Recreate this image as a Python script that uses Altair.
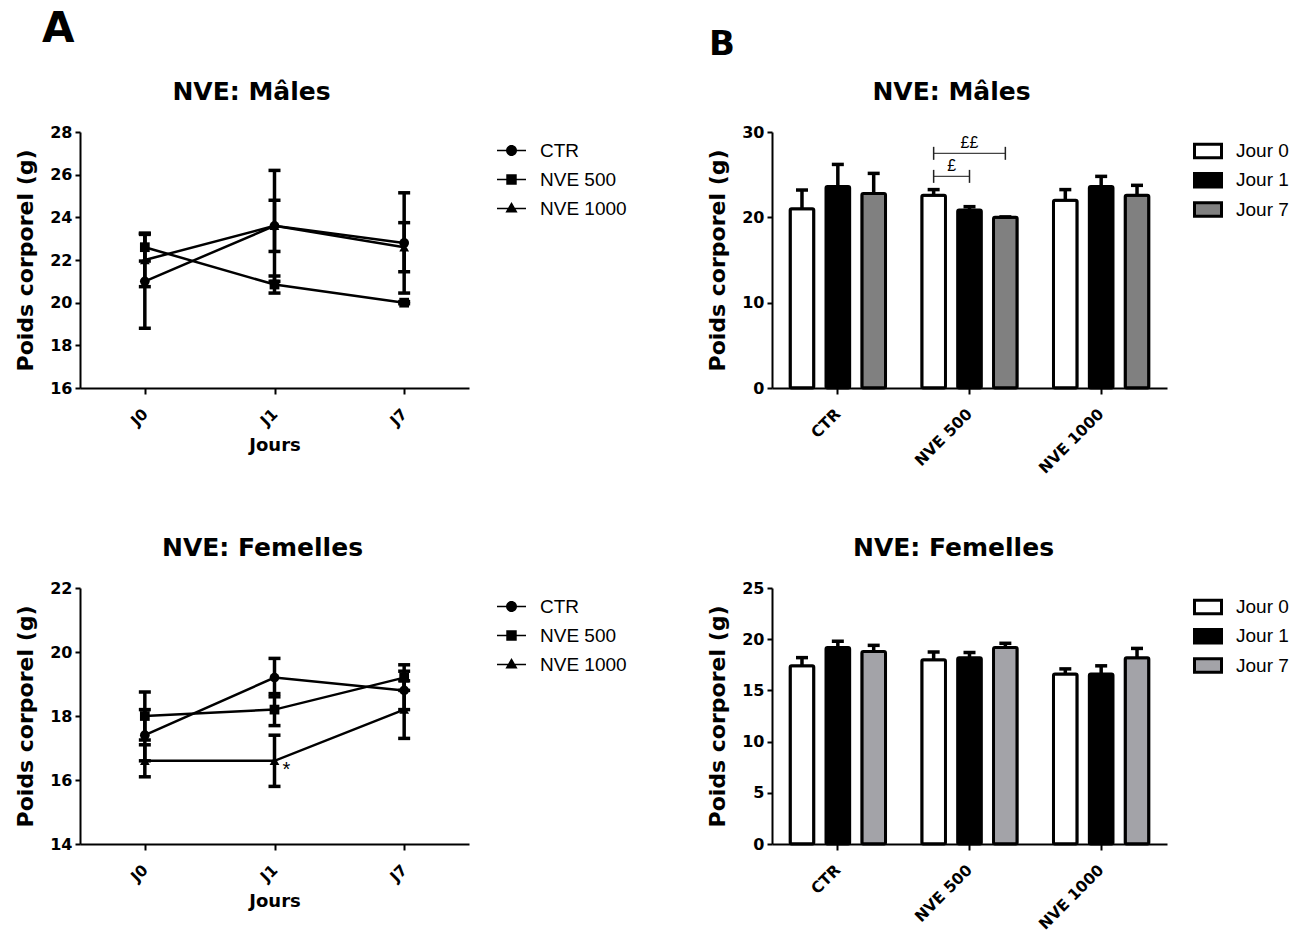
import altair as alt
import pandas as pd

days = ["J0", "J1", "J7"]
jours = ["Jour 0", "Jour 1", "Jour 7"]
groups = ["CTR", "NVE 500", "NVE 1000"]
panel_labels = ["A", "B"]

# Males (mean, SEM)
m_ctr_mean = [21.0, 23.6, 22.8]
m_ctr_sem = [2.2, 2.6, 2.35]
m_500_mean = [22.6, 20.85, 20.0]
m_500_sem = [0.65, 0.4, 0.05]
m_1000_mean = [22.0, 23.6, 22.6]
m_1000_sem = [1.25, 1.2, 1.15]

# Females (mean, SEM)
f_ctr_mean = [17.4, 19.2, 18.8]
f_ctr_sem = [0.8, 0.6, 0.6]
f_500_mean = [18.0, 18.2, 19.2]
f_500_sem = [0.75, 0.5, 0.4]
f_1000_mean = [16.6, 16.6, 18.2]
f_1000_sem = [0.5, 0.8, 0.9]

# significance brackets (males, NVE 500)
br_labels = ["£", "££"]
br_from = ["Jour 0", "Jour 0"]
br_to = ["Jour 1", "Jour 7"]
br_y = [24.8, 27.5]

FONT = "DejaVu Sans"
LFONT = "Liberation Sans"


def long_df(means, sems):
    rows = []
    for g, mm, ss in zip(groups, means, sems):
        for i, d in enumerate(days):
            rows.append(dict(group=g, day=d, jour=jours[i], mean=mm[i], sem=ss[i],
                             lo=mm[i] - ss[i], hi=mm[i] + ss[i]))
    return pd.DataFrame(rows)


males = long_df([m_ctr_mean, m_500_mean, m_1000_mean], [m_ctr_sem, m_500_sem, m_1000_sem])
females = long_df([f_ctr_mean, f_500_mean, f_1000_mean], [f_ctr_sem, f_500_sem, f_1000_sem])

# legend glyphs: a thin line with the marker in the middle (all sub-paths clockwise)
_bar = "M-1,-0.055H-0.2V0.055H-1ZM0.2,-0.055H1V0.055H0.2Z"
legend_paths = [
    _bar + "M-0.38,0A0.38,0.38,0,0,1,0.38,0A0.38,0.38,0,0,1,-0.38,0Z",
    _bar + "M-0.36,-0.36L0.36,-0.36L0.36,0.36L-0.36,0.36Z",
    _bar + "M0,-0.45L0.42,0.28L-0.42,0.28Z",
]

YTITLE = "Poids corporel (g)"


def y_axis(vals):
    return alt.Axis(values=vals, title=YTITLE, titlePadding=12, labelPadding=3)


def x_axis(title):
    kw = dict(labelAngle=-45, labelAlign="right", labelBaseline="middle", labelPadding=17,
              labelFontSize=15.5)
    if title:
        return alt.Axis(title=title, titleFontSize=18, titlePadding=8, **kw)
    return alt.Axis(title=None, **kw)


def line_panel(df, title, ydom, yvals, toff, tdx, label=None, star=None):
    xenc = alt.X("day:N", sort=days, scale=alt.Scale(type="point", padding=0.5), axis=x_axis("Jours"))
    yscale = alt.Scale(domain=ydom, nice=False, zero=False)
    base = alt.Chart(df).encode(x=xenc)
    line = base.mark_line(color="black", strokeWidth=2.5).encode(
        y=alt.Y("mean:Q", scale=yscale, axis=y_axis(yvals)), detail="group:N")
    err = base.mark_rule(color="black", strokeWidth=3.5).encode(y="lo:Q", y2="hi:Q")
    cap_lo = base.mark_tick(color="black", size=12, thickness=3.5, orient="horizontal", opacity=1).encode(
        y="lo:Q")
    cap_hi = base.mark_tick(color="black", size=12, thickness=3.5, orient="horizontal", opacity=1).encode(
        y="hi:Q")
    pts = base.mark_point(filled=True, color="black", size=95, opacity=1).encode(
        y="mean:Q",
        shape=alt.Shape("group:N", scale=alt.Scale(domain=groups, range=["circle", "square", "triangle-up"]),
                        legend=None))
    leg = base.transform_filter("datum.mean < 0").mark_point(
        filled=True, color="black", opacity=1).encode(
        y="mean:Q",
        shape=alt.Shape("group:N", scale=alt.Scale(domain=groups, range=legend_paths),
                        legend=alt.Legend(title=None, orient="none", legendX=417, legendY=4,
                                          symbolSize=841, symbolStrokeWidth=0,
                                          symbolFillColor="black", symbolOpacity=1,
                                          labelFont=LFONT, labelFontSize=19, labelOffset=14,
                                          rowPadding=4, labelColor="black")))
    layers = [line, err, cap_lo, cap_hi, pts, leg]
    if star is not None:
        sdf = pd.DataFrame([dict(day=star[0], mean=star[1], t=star[2])])
        layers.append(alt.Chart(sdf).mark_text(font=LFONT, fontSize=20, dx=12, color="black").encode(
            x=alt.X("day:N", sort=days), y="mean:Q", text="t:N"))
    if label is not None:
        ldf = pd.DataFrame([dict(t=label)])
        layers.append(alt.Chart(ldf).mark_text(font=FONT, fontWeight="bold", fontSize=42, align="left",
                                               baseline="alphabetic", color="black").encode(
            x=alt.value(-38), y=alt.value(-90), text="t:N"))
    return alt.layer(*layers).resolve_scale(shape="independent").properties(
        width=389, height=256, title=alt.TitleParams(title, offset=toff, dx=tdx))


def bar_panel(df, title, ydom, yvals, gray, toff, tdx, label=None, brackets=False):
    xenc = alt.X("group:N", sort=groups, scale=alt.Scale(paddingInner=0.183, paddingOuter=0.0915),
                 axis=x_axis(None))
    xoff = alt.XOffset("jour:N", sort=jours, scale=alt.Scale(paddingInner=0.34, paddingOuter=0.17))
    yscale = alt.Scale(domain=ydom, nice=False, zero=True)
    base = alt.Chart(df).encode(x=xenc, xOffset=xoff)
    bars = base.mark_bar(stroke="black", strokeWidth=3, cornerRadius=1.5).encode(
        y=alt.Y("mean:Q", scale=yscale, axis=y_axis(yvals)),
        fill=alt.Fill("jour:N", scale=alt.Scale(domain=jours, range=["white", "black", gray]),
                      legend=alt.Legend(title=None, orient="none", legendX=421, legendY=4,
                                        symbolType="M-1,-0.5L1,-0.5L1,0.5L-1,0.5Z", symbolSize=729,
                                        symbolStrokeWidth=3, symbolStrokeColor="black",
                                        labelFont=LFONT, labelFontSize=19, labelOffset=13,
                                        rowPadding=1.3, labelColor="black")))
    err = base.mark_rule(color="black", strokeWidth=3.5).encode(y="mean:Q", y2="hi:Q")
    cap = base.mark_tick(color="black", size=12, thickness=3.5, orient="horizontal", opacity=1).encode(
        y="hi:Q")
    layers = [err, bars, cap]
    if brackets:
        rows = []
        for i, (lab, a, b, yv) in enumerate(zip(br_labels, br_from, br_to, br_y)):
            rows.append(dict(id=i, group="NVE 500", jour=a, y=yv))
            rows.append(dict(id=i, group="NVE 500", jour=b, y=yv))
        bdf = pd.DataFrame(rows)
        bbase = alt.Chart(bdf).encode(x=alt.X("group:N", sort=groups),
                                      xOffset=alt.XOffset("jour:N", sort=jours))
        bl = bbase.mark_line(color="#444", strokeWidth=1.3).encode(y="y:Q", detail="id:N")
        bt = bbase.mark_tick(color="#222", size=13, thickness=1.5, orient="vertical", opacity=1).encode(
            y="y:Q")
        tdf0 = pd.DataFrame([dict(group="NVE 500", jour="Jour 0", y=br_y[0], t=br_labels[0])])
        tdf1 = pd.DataFrame([dict(group="NVE 500", jour="Jour 1", y=br_y[1], t=br_labels[1])])
        tt0 = alt.Chart(tdf0).mark_text(font=LFONT, fontSize=16, dx=18, dy=-2, baseline="bottom",
                                        color="black").encode(
            x=alt.X("group:N", sort=groups), xOffset=alt.XOffset("jour:N", sort=jours), y="y:Q", text="t:N")
        tt1 = alt.Chart(tdf1).mark_text(font=LFONT, fontSize=16, dy=-2, baseline="bottom",
                                        color="black").encode(
            x=alt.X("group:N", sort=groups), xOffset=alt.XOffset("jour:N", sort=jours), y="y:Q", text="t:N")
        layers += [bl, bt, tt0, tt1]
    if label is not None:
        ldf = pd.DataFrame([dict(t=label)])
        layers.append(alt.Chart(ldf).mark_text(font=FONT, fontWeight="bold", fontSize=34, align="left",
                                               baseline="alphabetic", color="black").encode(
            x=alt.value(-63), y=alt.value(-77), text="t:N"))
    return alt.layer(*layers).properties(width=395, height=256,
                                         title=alt.TitleParams(title, offset=toff, dx=tdx))


lt = line_panel(males, "NVE: Mâles", [16, 28], list(range(16, 29, 2)), -97, -23,
                label=panel_labels[0])
lb = line_panel(females, "NVE: Femelles", [14, 22], list(range(14, 23, 2)), 19, -12,
                star=("J1", 16.3, "*"))
rt = bar_panel(males, "NVE: Mâles", [0, 30], [0, 10, 20, 30], "#808080", -77, -18,
               label=panel_labels[1], brackets=True)
rb = bar_panel(females, "NVE: Femelles", [0, 25], [0, 5, 10, 15, 20, 25], "#a3a3a8", 19, -16)

chart = alt.concat(lt, rt, lb, rb, columns=2, bounds="flush", align="each",
                   spacing={"row": 200, "column": 303}).resolve_scale(
    fill="independent", shape="independent", x="independent", y="independent"
).resolve_legend(fill="independent", shape="independent").properties(
    padding={"left": 6, "top": 0, "right": 5, "bottom": 5}
).configure_view(stroke=None).configure_axis(
    labelFont=FONT, labelFontSize=16, labelFontWeight="bold", labelColor="black",
    titleFont=FONT, titleFontSize=22, titleFontWeight="bold", titleColor="black",
    tickSize=5, tickWidth=2, tickColor="black", domainColor="black", domainWidth=2, grid=False
).configure_axisX(tickSize=6).configure_title(
    font=FONT, fontSize=25, fontWeight="bold", color="black", anchor="middle"
)

chart.save("out.html", embed_options={"renderer": "svg", "actions": False})
